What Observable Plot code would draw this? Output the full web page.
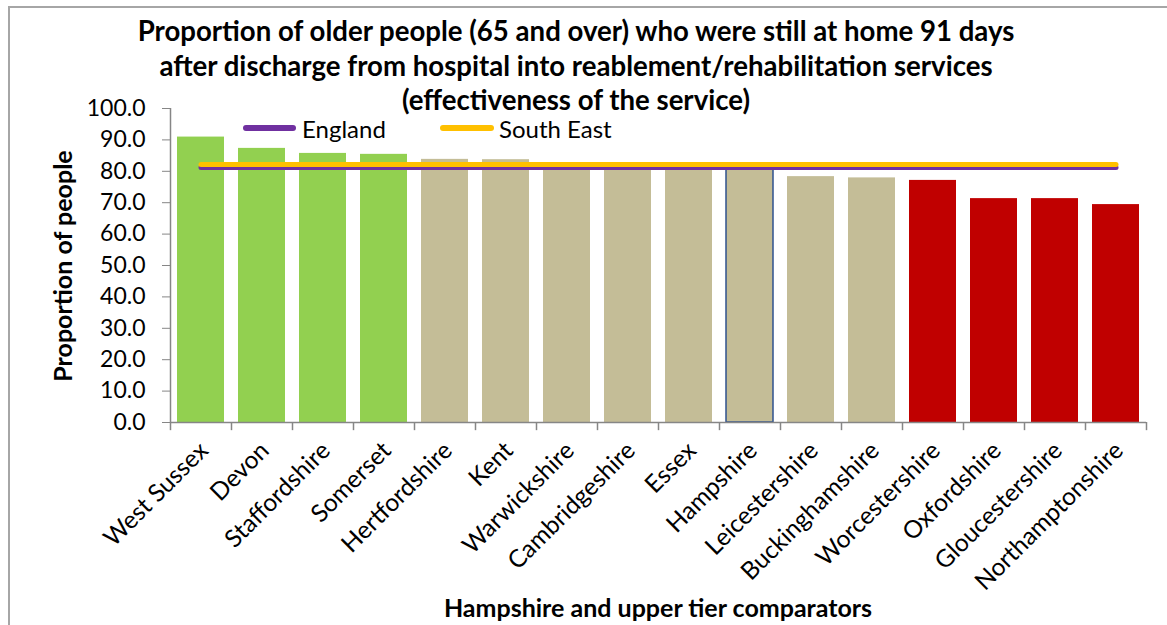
<!DOCTYPE html>
<html>
<head>
<meta charset="utf-8">
<script src="https://cdn.jsdelivr.net/npm/d3@7"></script>
<script src="https://cdn.jsdelivr.net/npm/@observablehq/plot@0.6"></script>
<style>
  html, body { margin: 0; padding: 0; background: #fff; overflow: hidden; }
  #wrap { position: relative; width: 1167px; height: 625px; font-family: Lato, sans-serif; }
  #border { position: absolute; left: 8px; top: 6px; width: 1200px; height: 700px; border: 2px solid #A6A6A6; box-sizing: border-box; }
  .title { position: absolute; left: 0; width: 1152px; text-align: center; font-weight: bold; font-size: 27.6px; line-height: 28px; height: 28px; color: #000; white-space: nowrap; }
  .leg { position: absolute; top: 117px; font-size: 24px; line-height: 24px; color: #000; }
  .legline { position: absolute; height: 6px; border-radius: 3px; top: 125px; }
  #xtitle { position: absolute; left: 170px; width: 976px; top: 592px; text-align: center; font-weight: bold; font-size: 25px; }
  #ytitle { position: absolute; left: 62px; top: 266px; transform: translate(-50%, -50%) rotate(-90deg); white-space: nowrap; font-weight: bold; font-size: 25px; }
  svg { position: absolute; left: 0; top: 0; }
</style>
</head>
<body>
<div id="wrap">
  <div id="border"></div>
  <div id="chart"></div>
  <div class="title" style="top:17px">Proportion of older people (65 and over) who were still at home 91 days</div>
  <div class="title" style="top:52px">after discharge from hospital into reablement/rehabilitation services</div>
  <div class="title" style="top:86px">(effectiveness of the service)</div>
  <div class="legline" style="left:243px;width:53px;background:#7030A0"></div>
  <div class="leg" style="left:302px">England</div>
  <div class="legline" style="left:440px;width:54px;background:#FFC000"></div>
  <div class="leg" style="left:499px">South East</div>
  <div id="xtitle">Hampshire and upper tier comparators</div>
  <div id="ytitle">Proportion of people</div>
</div>
<script>
const counties = ["West Sussex","Devon","Staffordshire","Somerset","Hertfordshire","Kent","Warwickshire","Cambridgeshire","Essex","Hampshire","Leicestershire","Buckinghamshire","Worcestershire","Oxfordshire","Gloucestershire","Northamptonshire"];
const values = [90.9, 87.3, 85.7, 85.4, 83.8, 83.7, 82.0, 81.8, 81.6, 81.4, 78.3, 77.9, 77.1, 71.3, 71.3, 69.4];
const groups = ["high","high","high","high","mid","mid","mid","mid","mid","mid","mid","mid","low","low","low","low"];
const englandValue = 81.2;
const southEastValue = 82.2;
const yTicks = [0,10,20,30,40,50,60,70,80,90,100];

const groupColor = {high: "#92D050", mid: "#C4BD97", low: "#C00000"};
const data = counties.map((c, i) => ({county: c, value: values[i], group: groups[i], england: englandValue, se: southEastValue}));

const W = 1167, H = 625, ML = 170, MR = 21, MT = 108, MB = 203;
const step = (W - ML - MR) / counties.length;
const gray = "#868686";

const plot = Plot.plot({
  width: W, height: H,
  marginLeft: ML, marginRight: MR, marginTop: MT, marginBottom: MB,
  style: {fontFamily: "Lato, sans-serif", color: "#000", background: "transparent"},
  x: {type: "band", domain: counties, paddingInner: 0.23, paddingOuter: 0.115, label: null},
  y: {domain: [0, 100], label: null},
  marks: [
    Plot.barY(data, {x: "county", y: "value", fill: d => groupColor[d.group]}),
    Plot.barY(data.filter(d => d.county === "Hampshire"), {x: "county", y: "value", fill: d => groupColor[d.group], stroke: "#2F528F", strokeWidth: 1.5}),
    Plot.ruleY([0], {stroke: gray, strokeWidth: 1.5}),
    Plot.ruleX([counties[0]], {x: d => d, y1: 0, y2: 100, dx: -step / 2, stroke: gray, strokeWidth: 1.5}),
    Plot.ruleX(counties, {x: d => d, y1: 0, y2: -2.6, dx: -step / 2, stroke: gray, strokeWidth: 1.5}),
    Plot.ruleX([counties[counties.length - 1]], {x: d => d, y1: 0, y2: -2.6, dx: step / 2, stroke: gray, strokeWidth: 1.5}),
    Plot.axisY({ticks: yTicks, tickFormat: d => d.toFixed(1), tickSize: 8, tickPadding: 17, fontSize: 23, stroke: gray, fill: "#000", label: null}),
    Plot.axisX({tickRotate: -45, tickSize: 0, tickPadding: 24, dx: 3, fontSize: 24.5, fill: "#000", label: null}),
    Plot.lineY(data, {x: "county", y: "england", stroke: "#7030A0", strokeWidth: 5, strokeLinecap: "round"}),
    Plot.lineY(data, {x: "county", y: "se", stroke: "#FFC000", strokeWidth: 5, strokeLinecap: "round"})
  ]
});
document.getElementById("chart").appendChild(plot);
</script>
</body>
</html>
